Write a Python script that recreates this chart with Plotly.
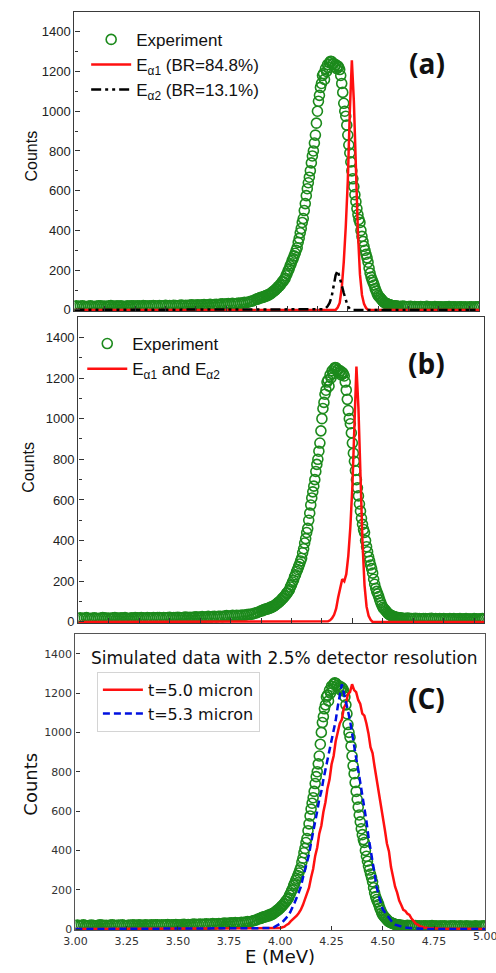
import numpy as np
import plotly.graph_objects as go

# ---------------- data ----------------
# experimental spectrum, in three channel blocks
# block 1: 3.00 .. 3.89 MeV (step 0.01)
exp_E_low = np.round(np.arange(3.00, 3.8951, 0.01), 3)
exp_counts_low = [
    18, 20, 17, 19, 21, 18, 16, 19, 20, 18,
    17, 19, 21, 20, 18, 19, 17, 20, 22, 19,
    18, 20, 19, 21, 18, 17, 20, 19, 21, 20,
    19, 21, 20, 18, 22, 20, 19, 21, 20, 22,
    21, 19, 22, 20, 21, 23, 20, 22, 21, 23,
    22, 20, 23, 24, 21, 23, 22, 24, 25, 23,
    24, 26, 23, 25, 27, 24, 26, 28, 25, 27,
    28, 26, 29, 31, 28, 30, 32, 30, 33, 31,
    32, 34, 33, 36, 38, 37, 40, 43, 45, 50,
]
# block 2: 3.900 .. 4.595 MeV (step 0.005)
exp_E_peak = np.round(np.arange(3.900, 4.5951, 0.005), 3)
exp_counts_peak = [
    55, 54, 58, 61, 60, 64, 63, 67, 66, 72,
    70, 76, 75, 80, 82, 88, 90, 96, 98, 104,
    108, 116, 118, 126, 130, 140, 143, 152, 158, 172,
    182, 196, 205, 222, 232, 248, 258, 272, 285, 300,
    313, 340, 360, 388, 410, 440, 460, 500, 535, 575,
    610, 640, 668, 700, 740, 775, 800, 840, 880, 940,
    1000, 1050, 1080, 1120, 1140, 1180, 1190, 1160, 1215, 1200,
    1235, 1220, 1245, 1252, 1250, 1238, 1240, 1225, 1235, 1215,
    1228, 1222, 1210, 1180, 1140, 1095, 1040, 1000, 975, 930,
    880, 830, 790, 745, 700, 660, 620, 580, 545, 510,
    480, 455, 440, 400, 370, 345, 320, 300, 280, 262,
    240, 210, 185, 165, 150, 138, 125, 108, 95, 82,
    72, 66, 60, 54, 48, 42, 38, 35, 32, 30,
    28, 26, 24, 23, 22, 21, 20, 19, 19, 18,
]
# block 3: 4.60 .. 5.00 MeV (step 0.01)
exp_E_high = np.round(np.arange(4.60, 5.0001, 0.01), 3)
exp_counts_high = [
    18, 17, 19, 18, 16, 17, 18, 16, 17, 15,
    16, 17, 15, 16, 18, 15, 16, 14, 17, 15,
    16, 15, 14, 16, 15, 17, 14, 15, 16, 14,
    15, 16, 14, 15, 13, 16, 15, 14, 15, 16,
    15,
]

# panel (a): E_alpha1 simulated line
ea1_E = [3.00, 4.29, 4.30, 4.31, 4.32, 4.33, 4.34, 4.35, 4.36, 4.37, 4.38,
         4.39, 4.40, 4.41, 4.42, 4.43, 4.44, 4.45, 5.00]
ea1_counts = [0, 0, 12, 35, 110, 240, 420, 650, 1000, 1256, 1050,
              700, 390, 180, 75, 30, 10, 0, 0]

# panel (a): E_alpha2 simulated line
ea2_E = [3.00, 4.22, 4.23, 4.24, 4.25, 4.26, 4.27, 4.28, 4.29, 4.30, 4.31,
         4.32, 4.33, 4.34, 4.35, 4.36, 4.37, 5.00]
ea2_counts = [0, 0, 3, 8, 18, 35, 65, 120, 175, 198, 165,
              125, 85, 45, 18, 5, 0, 0]

# panel (b): E_alpha1 and E_alpha2 combined
eab_E = [3.00, 4.22, 4.23, 4.24, 4.25, 4.26, 4.27, 4.28, 4.29, 4.30, 4.31,
         4.32, 4.33, 4.34, 4.35, 4.36, 4.37, 4.38, 4.39, 4.40, 4.41, 4.42,
         4.43, 4.44, 4.45, 5.00]
eab_counts = [0, 0, 3, 8, 18, 35, 65, 120, 175, 210, 200,
              235, 325, 465, 665, 1005, 1256, 1050, 700, 390, 180, 75,
              30, 10, 0, 0]

# panel (c): t = 5.0 micron simulation
t50_E = [3.00, 3.99, 4.00, 4.01, 4.02, 4.03, 4.04, 4.05, 4.06, 4.07, 4.08, 4.09,
         4.10, 4.11, 4.12, 4.13, 4.14, 4.15, 4.16, 4.17, 4.18, 4.19,
         4.20, 4.21, 4.22, 4.23, 4.24, 4.25, 4.26, 4.27, 4.28, 4.29,
         4.30, 4.31, 4.32, 4.33, 4.34, 4.35, 4.36, 4.37, 4.38, 4.39,
         4.40, 4.41, 4.42, 4.43, 4.44, 4.45, 4.46, 4.47, 4.48, 4.49,
         4.50, 4.51, 4.52, 4.53, 4.54, 4.55, 4.56, 4.57, 4.58, 4.59,
         4.60, 4.61, 4.62, 4.63, 4.64, 4.65, 4.66, 4.67, 4.68, 4.69,
         4.70, 4.72, 4.75, 4.80, 4.90, 5.00]
t50_counts = [0, 2, 5, 9, 12, 21, 27, 39, 48, 62, 68, 82,
              98, 122, 148, 183, 210, 262, 305, 372, 415, 485,
              525, 595, 645, 715, 760, 838, 880, 955, 995, 1045,
              1065, 1125, 1145, 1195, 1205, 1245, 1215, 1205, 1165, 1145,
              1095, 1085, 1045, 995, 925, 895, 825, 765, 705, 645,
              575, 505, 435, 395, 315, 265, 215, 185, 145, 122,
              98, 92, 78, 72, 53, 42, 28, 23, 15, 12,
              8, 5, 3, 2, 1, 0]

# panel (c): t = 5.3 micron simulation
t53_E = [3.00, 3.95, 3.96, 3.97, 3.98, 3.99, 4.00, 4.01, 4.02, 4.03, 4.04, 4.05,
         4.06, 4.07, 4.08, 4.09, 4.10, 4.11, 4.12, 4.13, 4.14, 4.15,
         4.16, 4.17, 4.18, 4.19, 4.20, 4.21, 4.22, 4.23, 4.24, 4.25,
         4.26, 4.27, 4.28, 4.29, 4.30, 4.31, 4.32, 4.33, 4.34, 4.35,
         4.36, 4.37, 4.38, 4.39, 4.40, 4.41, 4.42, 4.43, 4.44, 4.45,
         4.46, 4.47, 4.48, 4.49, 4.50, 4.51, 4.52, 4.53, 4.54, 4.55,
         4.56, 4.57, 4.58, 4.59, 4.60, 4.62, 4.65, 4.70, 4.80, 5.00]
t53_counts = [0, 2, 5, 10, 15, 20, 28, 35, 45, 55, 70, 90,
              110, 135, 160, 190, 215, 260, 300, 345, 380, 440,
              490, 540, 600, 660, 700, 760, 810, 860, 910, 970,
              1020, 1060, 1130, 1180, 1245, 1200, 1160, 1110, 1060, 990,
              930, 870, 810, 750, 680, 610, 550, 470, 400, 330,
              270, 215, 170, 130, 100, 85, 70, 55, 40, 30,
              22, 18, 14, 12, 10, 6, 3, 1, 0, 0]

y_ticks = [0, 200, 400, 600, 800, 1000, 1200, 1400]
x_ticks_c = [3.00, 3.25, 3.50, 3.75, 4.00, 4.25, 4.50, 4.75, 5.00]

exp_E = np.concatenate([exp_E_low, exp_E_peak, exp_E_high])
exp_counts = exp_counts_low + exp_counts_peak + exp_counts_high
assert len(exp_E) == len(exp_counts), (len(exp_E), len(exp_counts))

# ---------------- styling ----------------
W, H = 496, 973
GREEN = "#1c8a1c"
RED = "#ff1010"
BLACK = "#000000"
BLUE = "#0010e0"
ARIAL = "Liberation Sans, Arial, sans-serif"
DEJAVU = "DejaVu Sans, sans-serif"


def px_x(p):
    return p / W


def px_y(p):
    return 1 - p / H


fig = go.Figure()

exp_marker = dict(symbol="circle-open", size=10, color=GREEN,
                  line=dict(width=1.6, color=GREEN))

# panel (a)
fig.add_trace(go.Scatter(x=exp_E, y=exp_counts, mode="markers", marker=exp_marker,
                         name="Experiment", xaxis="x", yaxis="y", legend="legend"))
fig.add_trace(go.Scatter(x=ea1_E, y=ea1_counts, mode="lines",
                         line=dict(color=RED, width=2.5),
                         name="E<sub>α1</sub> (BR=84.8%)", xaxis="x", yaxis="y", legend="legend"))
fig.add_trace(go.Scatter(x=ea2_E, y=ea2_counts, mode="lines",
                         line=dict(color=BLACK, width=2.5, dash="10px,4px,3px,4px,3px,4px"),
                         name="E<sub>α2</sub> (BR=13.1%)", xaxis="x", yaxis="y", legend="legend"))

# panel (b)
fig.add_trace(go.Scatter(x=exp_E, y=exp_counts, mode="markers", marker=exp_marker,
                         name="Experiment", xaxis="x2", yaxis="y2", legend="legend2"))
fig.add_trace(go.Scatter(x=eab_E, y=eab_counts, mode="lines",
                         line=dict(color=RED, width=2.5),
                         name="E<sub>α1</sub> and E<sub>α2</sub>", xaxis="x2", yaxis="y2",
                         legend="legend2"))

# panel (c)
fig.add_trace(go.Scatter(x=exp_E, y=exp_counts, mode="markers", marker=exp_marker,
                         name="Experiment", xaxis="x3", yaxis="y3", showlegend=False))
fig.add_trace(go.Scatter(x=t50_E, y=t50_counts, mode="lines",
                         line=dict(color=RED, width=2.5),
                         name="t=5.0 micron", xaxis="x3", yaxis="y3", legend="legend3"))
fig.add_trace(go.Scatter(x=t53_E, y=t53_counts, mode="lines",
                         line=dict(color=BLUE, width=2.5, dash="7px,4px"),
                         name="t=5.3 micron", xaxis="x3", yaxis="y3", legend="legend3"))

frame_ab = dict(showline=True, mirror=True, linecolor="#3a3a3a", linewidth=1.3,
                showgrid=False, zeroline=False)
frame_c = dict(showline=True, mirror=True, linecolor="#555555", linewidth=1.2,
               showgrid=False, zeroline=False)

yab = dict(range=[-6, 1500], tickvals=y_ticks, ticks="inside", ticklen=5, tickwidth=1,
           tickcolor="#333", tickfont=dict(family=ARIAL, size=13, color="#222"),
           minor=dict(ticks="inside", ticklen=3, dtick=100, tick0=0, tickcolor="#333"),
           **frame_ab)
xab = dict(range=[3.0, 5.0], tick0=3.0, dtick=0.15, ticks="inside", ticklen=5,
           tickcolor="#333", showticklabels=False, **frame_ab)

# the last x tick label (5.00) sits on the page edge; show it via an annotation
x_ticks_c_axis = x_ticks_c[:-1]

fig.update_layout(
    width=W, height=H,
    margin=dict(l=0, r=0, t=0, b=0),
    paper_bgcolor="white", plot_bgcolor="white",
    xaxis=dict(domain=[px_x(64), px_x(479)], anchor="y", **xab),
    yaxis=dict(domain=[px_y(313), px_y(12)], anchor="x", **yab),
    xaxis2=dict(domain=[px_x(68), px_x(484)], anchor="y2", **xab),
    yaxis2=dict(domain=[px_y(627), px_y(319)], anchor="x2", **yab),
    xaxis3=dict(domain=[px_x(65), px_x(485)], anchor="y3", range=[3.0, 5.0],
                tickvals=x_ticks_c_axis, ticktext=[f"{v:.2f}" for v in x_ticks_c_axis],
                ticks="inside", ticklen=4, tickcolor="#333",
                tickfont=dict(family=DEJAVU, size=11, color="#333"), **frame_c),
    yaxis3=dict(domain=[px_y(936), px_y(638)], anchor="x3", range=[-6, 1500],
                tickvals=y_ticks, ticks="inside", ticklen=4, tickcolor="#333",
                tickfont=dict(family=DEJAVU, size=11, color="#333"), **frame_c),
    legend=dict(x=px_x(76), y=px_y(22), xanchor="left", yanchor="top",
                bgcolor="rgba(0,0,0,0)", font=dict(family=ARIAL, size=17, color="#111"),
                tracegroupgap=0, itemwidth=40),
    legend2=dict(x=px_x(72), y=px_y(328), xanchor="left", yanchor="top",
                 bgcolor="rgba(0,0,0,0)", font=dict(family=ARIAL, size=17, color="#111"),
                 tracegroupgap=0, itemwidth=40),
    legend3=dict(x=px_x(87), y=px_y(676), xanchor="left", yanchor="top",
                 bgcolor="white", bordercolor="#d4d4d4", borderwidth=1,
                 font=dict(family=DEJAVU, size=16, color="#111"),
                 tracegroupgap=0, itemwidth=40),
)

annotations = [
    dict(text="Counts", x=px_x(20), y=px_y(157), textangle=-90,
         font=dict(family=ARIAL, size=16, color="#111")),
    dict(text="Counts", x=px_x(17), y=px_y(470), textangle=-90,
         font=dict(family=ARIAL, size=16, color="#111")),
    dict(text="Counts", x=px_x(19), y=px_y(789), textangle=-90,
         font=dict(family=DEJAVU, size=18, color="#111")),
    dict(text="E (MeV)", x=px_x(275), y=px_y(962),
         font=dict(family=DEJAVU, size=18, color="#111")),
    dict(text="<b>(a)</b>", x=px_x(425), y=px_y(63),
         font=dict(family="Open Sans, sans-serif", size=28, color="#111")),
    dict(text="<b>(b)</b>", x=px_x(425), y=px_y(365),
         font=dict(family="Open Sans, sans-serif", size=28, color="#111")),
    dict(text="<b>(C)</b>", x=px_x(425), y=px_y(702),
         font=dict(family="Open Sans, sans-serif", size=28, color="#111")),
    dict(text="Simulated data with 2.5% detector resolution", x=px_x(279), y=px_y(662),
         font=dict(family=DEJAVU, size=17, color="#111")),
]
for a in annotations:
    a.update(xref="paper", yref="paper", showarrow=False, xanchor="center", yanchor="middle")

# last tick label of panel (c), placed at its data position
annotations.append(dict(text=f"{x_ticks_c[-1]:.2f}", x=x_ticks_c[-1], xref="x3",
                        y=px_y(942), yref="paper", showarrow=False,
                        xanchor="center", yanchor="middle",
                        font=dict(family=DEJAVU, size=11, color="#333")))
fig.update_layout(annotations=annotations)

fig.write_html("out.html")
